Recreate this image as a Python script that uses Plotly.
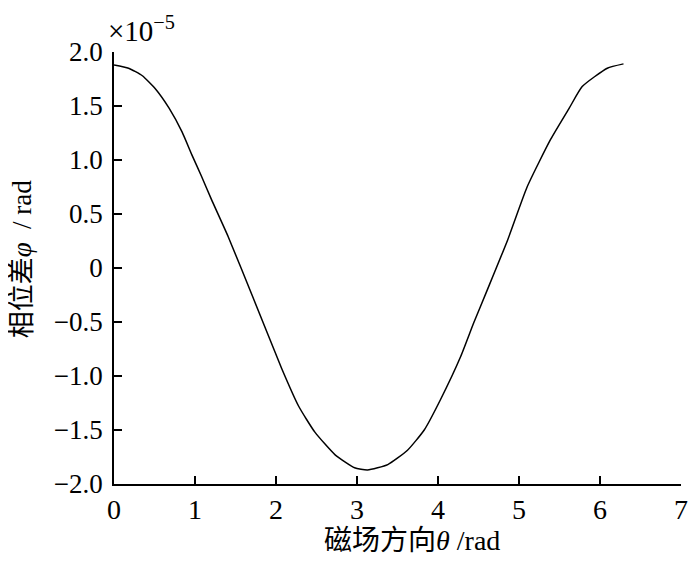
import plotly.graph_objects as go

# magnetic field direction (rad) and phase difference (x1e-5 rad)
theta = [0.0, 0.18, 0.35, 0.51, 0.68, 0.84, 0.96, 1.08, 1.20, 1.41, 1.72, 2.07, 2.28,
         2.48, 2.73, 2.97, 3.13, 3.38, 3.62, 3.83, 4.03, 4.28, 4.44, 4.61, 4.86, 5.10,
         5.39, 5.62, 5.78, 6.09, 6.29]
phase = [1.88, 1.85, 1.78, 1.66, 1.48, 1.26, 1.05, 0.85, 0.64, 0.29, -0.28, -0.93, -1.28,
         -1.52, -1.73, -1.85, -1.87, -1.82, -1.69, -1.50, -1.22, -0.82, -0.51, -0.20, 0.26,
         0.75, 1.19, 1.48, 1.68, 1.85, 1.89]

x_ticks = [0, 1, 2, 3, 4, 5, 6, 7]
y_ticks = [2.0, 1.5, 1.0, 0.5, 0, -0.5, -1.0, -1.5, -2.0]
y_labels = ["2.0", "1.5", "1.0", "0.5", "0", "−0.5", "−1.0", "−1.5", "−2.0"]

font_family = "Liberation Serif, Noto Sans CJK SC"

fig = go.Figure()
fig.add_trace(go.Scatter(x=theta, y=phase, mode="lines",
                         line=dict(color="black", width=1.5, shape="spline", smoothing=0.5),
                         showlegend=False))

axis_style = dict(showline=True, linecolor="black", linewidth=1.5, mirror=False,
                  showgrid=False, zeroline=False, ticks="inside", ticklen=8,
                  tickwidth=1.5, tickcolor="black")

fig.update_xaxes(range=[0, 7], tickvals=x_ticks, ticktext=[str(t) for t in x_ticks],
                 tickfont=dict(family=font_family, size=28, color="black"), **axis_style)
fig.update_yaxes(range=[-2.0, 2.0], tickvals=y_ticks, ticktext=y_labels,
                 ticklabelstandoff=4,
                 tickfont=dict(family=font_family, size=27, color="black"), **axis_style)

# axis titles placed as annotations to match the reference positions
fig.add_annotation(text="磁场方向<i>θ</i> /rad", xref="paper", yref="paper", x=0.525, y=0,
                   xanchor="center", yanchor="middle", yshift=-56, showarrow=False,
                   font=dict(family=font_family, size=28, color="black"))
fig.add_annotation(text="相位差<i>φ</i>  / rad", xref="paper", yref="paper", x=0, y=0.52,
                   xanchor="center", yanchor="middle", xshift=-92, textangle=-90,
                   showarrow=False, font=dict(family=font_family, size=27, color="black"))

fig.add_annotation(text="×10<sup>−5</sup>", xref="paper", yref="paper", x=-0.014, y=1.0,
                   xanchor="left", yanchor="bottom", showarrow=False, yshift=3,
                   font=dict(family=font_family, size=29, color="black"))

# page body adds an 8px offset, so the figure is sized to fit the 700x561 window
fig.update_layout(width=692, height=553, plot_bgcolor="white", paper_bgcolor="white",
                  margin=dict(l=106, r=16, t=44, b=77))

fig.write_html("out.html")
